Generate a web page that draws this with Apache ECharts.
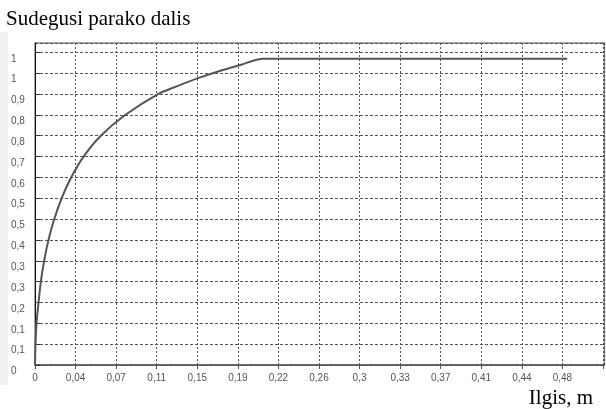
<!DOCTYPE html>
<html>
<head>
<meta charset="utf-8">
<script src="https://cdn.jsdelivr.net/npm/echarts@6/dist/echarts.min.js"></script>
<style>
  html, body { margin: 0; padding: 0; background: #fff; }
  #chart { width: 606px; height: 409px; }
</style>
</head>
<body>
<div id="chart"></div>
<script>
// Burnt share of the fuse against its length
var lengthM = [0, 0.0002, 0.0005, 0.0014, 0.0032, 0.0053, 0.0083, 0.0123, 0.0176, 0.0243,
               0.0331, 0.0442, 0.0601, 0.0823, 0.112, 0.130, 0.1489, 0.1673, 0.1875, 0.2082, 0.486];
var burntShare = [0, 0.036, 0.069, 0.138, 0.204, 0.273, 0.341, 0.410, 0.479, 0.547,
                  0.616, 0.683, 0.752, 0.820, 0.888, 0.915, 0.941, 0.963, 0.984, 1.005, 1.005];

// Tick labels as printed (comma decimals, rounded)
var xTickLabels = ['0', '0,04', '0,07', '0,11', '0,15', '0,19', '0,22', '0,26', '0,3',
                   '0,33', '0,37', '0,41', '0,44', '0,48'];
var yTickLabels = ['0', '0,1', '0,1', '0,2', '0,3', '0,3', '0,4', '0,5', '0,5', '0,6',
                   '0,7', '0,8', '0,8', '0,9', '1', '1'];

var X_STEP = 0.03705, X_MAX = 0.52;
var Y_STEP = 0.0684, Y_MAX = 1.0564;

var seriesData = lengthM.map(function (x, i) { return [x, burntShare[i]]; });

function labelAt(list, step) {
  return function (v) {
    var k = Math.round(v / step);
    return (k >= 0 && k < list.length && Math.abs(v - k * step) < step * 0.01) ? list[k] : '';
  };
}

var chart = echarts.init(document.getElementById('chart'), null, { renderer: 'canvas' });
chart.setOption({
  animation: false,
  backgroundColor: '#fff',
  title: {
    text: 'Sudegusi parako dalis',
    left: 6, top: 9, padding: 0,
    textStyle: { fontFamily: 'Liberation Serif', fontSize: 21, fontWeight: 'normal', color: '#000' }
  },
  graphic: [
    { type: 'rect', left: 0, top: 32, shape: { width: 8, height: 353 }, style: { fill: '#f1f1f1' }, z: -1 },
    { type: 'text', right: 13, top: 388,
      style: { text: 'Ilgis, m', font: '21px "Liberation Serif"', fill: '#000' } }
  ],
  grid: {
    left: 35, top: 43, height: 322, width: 586,
    show: true, borderColor: '#8a8a8a', borderWidth: 1.5, backgroundColor: 'transparent'
  },
  xAxis: {
    type: 'value', min: 0, max: X_MAX, interval: X_STEP,
    axisLine: { show: true, lineStyle: { color: '#555', width: 1.5 } },
    axisTick: { show: true, length: 4, lineStyle: { color: '#555' } },
    splitLine: { show: true, lineStyle: { color: '#555', type: [2, 2], width: 1 } },
    axisLabel: {
      formatter: labelAt(xTickLabels, X_STEP), showMaxLabel: false,
      fontFamily: 'Liberation Sans', fontSize: 10, color: '#555', margin: 8
    }
  },
  yAxis: {
    type: 'value', min: 0, max: Y_MAX, interval: Y_STEP,
    axisLine: { show: true, lineStyle: { color: '#111', width: 1 } },
    axisTick: { show: true, inside: true, length: 5, lineStyle: { color: '#333' } },
    splitLine: { show: true, lineStyle: { color: '#555', type: [3, 2], width: 1 } },
    axisLabel: {
      formatter: labelAt(yTickLabels, Y_STEP), showMaxLabel: false,
      fontFamily: 'Liberation Sans', fontSize: 10, color: '#555',
      align: 'left', verticalAlign: 'top', lineHeight: 13, margin: 24
    }
  },
  series: [{
    type: 'line',
    data: seriesData,
    showSymbol: false,
    smooth: 0.3,
    lineStyle: { color: '#555', width: 2 },
    z: 5
  }]
});
</script>
</body>
</html>
